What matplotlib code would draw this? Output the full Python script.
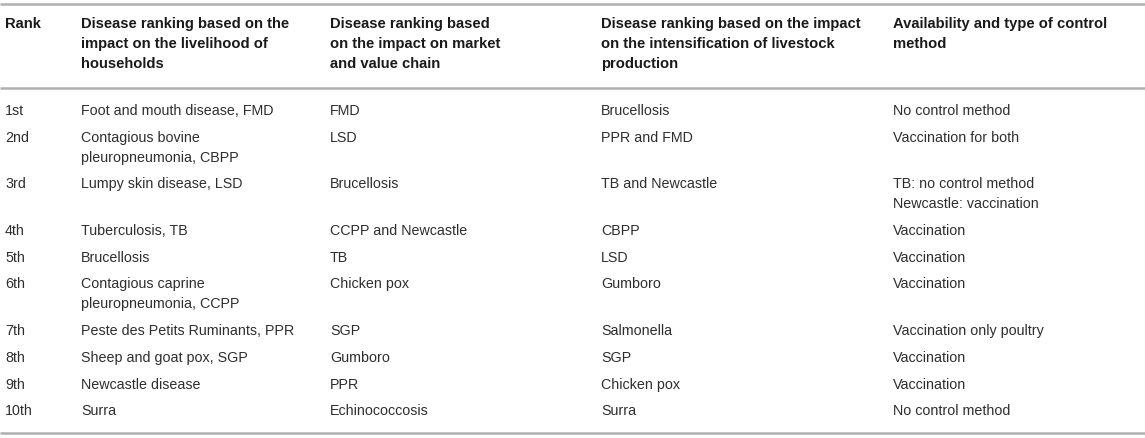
import matplotlib
matplotlib.use("Agg")
import matplotlib.pyplot as plt

# ---- data ----
headers = [
    "Rank",
    "Disease ranking based on the\nimpact on the livelihood of\nhouseholds",
    "Disease ranking based\non the impact on market\nand value chain",
    "Disease ranking based on the impact\non the intensification of livestock\nproduction",
    "Availability and type of control\nmethod",
]
ranks = ["1st", "2nd", "3rd", "4th", "5th", "6th", "7th", "8th", "9th", "10th"]
livelihood = [
    "Foot and mouth disease, FMD",
    "Contagious bovine\npleuropneumonia, CBPP",
    "Lumpy skin disease, LSD",
    "Tuberculosis, TB",
    "Brucellosis",
    "Contagious caprine\npleuropneumonia, CCPP",
    "Peste des Petits Ruminants, PPR",
    "Sheep and goat pox, SGP",
    "Newcastle disease",
    "Surra",
]
market = ["FMD", "LSD", "Brucellosis", "CCPP and Newcastle", "TB", "Chicken pox",
          "SGP", "Gumboro", "PPR", "Echinococcosis"]
intensification = ["Brucellosis", "PPR and FMD", "TB and Newcastle", "CBPP", "LSD",
                   "Gumboro", "Salmonella", "SGP", "Chicken pox", "Surra"]
control = ["No control method", "Vaccination for both",
           "TB: no control method\nNewcastle: vaccination",
           "Vaccination", "Vaccination", "Vaccination", "Vaccination only poultry",
           "Vaccination", "Vaccination", "No control method"]

# ---- layout ----
W, H = 1145, 438
fig = plt.figure(figsize=(W / 100, H / 100), dpi=100)
ax = fig.add_axes([0, 0, 1, 1])
ax.set_xlim(0, W)
ax.set_ylim(H, 0)
ax.axis("off")

col_x = [5, 81, 330, 601, 893]
font = "Liberation Sans"
body_size = 10.3
head_size = 10.6
body_color = "#2e2e2e"
head_color = "#1a1a1a"
line_color = "#b0b0b0"
line_h = 20.0
row_gap = 26.7

# rules
ax.hlines([3.5, 88, 433], 0, W, colors=line_color, linewidth=1.8)

# header
for x, h in zip(col_x, headers):
    for i, ln in enumerate(h.split("\n")):
        ax.text(x, 24 + i * line_h, ln, fontsize=head_size, fontweight="bold",
                family=font, color=head_color, va="center", ha="left")

# body
y = 111.0
for r in range(len(ranks)):
    cells = [ranks[r], livelihood[r], market[r], intensification[r], control[r]]
    nl = 1
    for x, c in zip(col_x, cells):
        lines = c.split("\n")
        nl = max(nl, len(lines))
        for i, ln in enumerate(lines):
            ax.text(x, y + i * line_h, ln, fontsize=body_size, family=font,
                    color=body_color, va="center", ha="left")
    y += (nl - 1) * line_h + row_gap

fig.savefig("out.png", dpi=100)
